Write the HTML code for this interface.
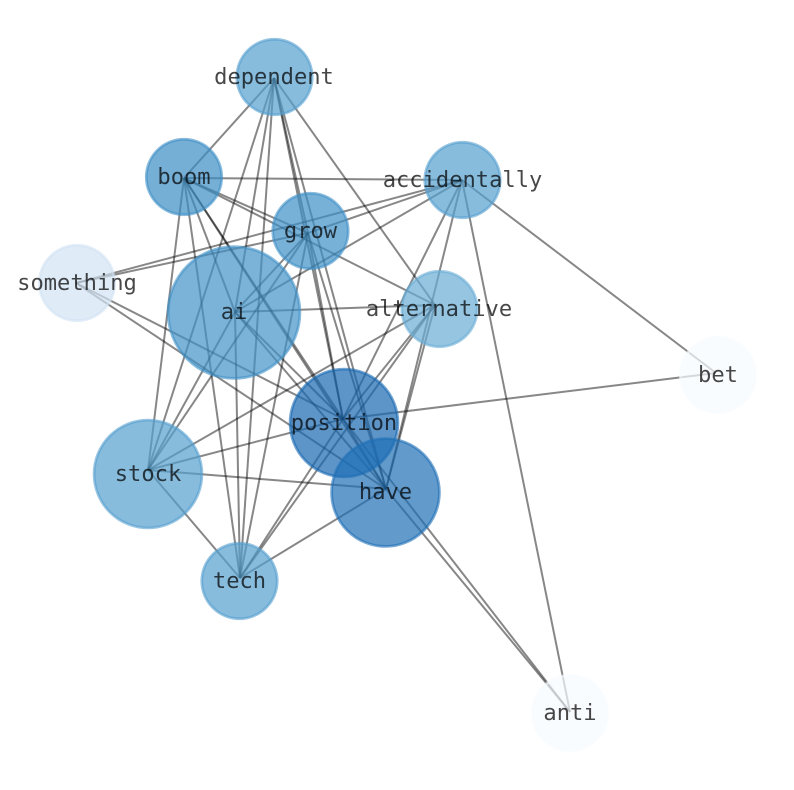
<!DOCTYPE html>
<html><head><meta charset="utf-8"><style>html,body{margin:0;padding:0;background:#fff}svg{display:block}text{font-family:"DejaVu Sans Mono","Liberation Mono",monospace;font-size:22.1px;text-anchor:middle;fill:#000;fill-opacity:.72}</style></head><body>
<svg width="794" height="790" viewBox="0 0 794 790" xmlns="http://www.w3.org/2000/svg">
<g stroke="#000" stroke-opacity=".47" stroke-width="2" fill="none">
<path d="M274 78L184 178"/><path d="M274 78L148 470"/><path d="M274 78L235 312"/><path d="M274 78L240 578"/><path d="M274 78L308 233"/><path d="M274 78L343 419"/><path d="M274 78L386 489"/><path d="M274 78L435 305"/>
<path d="M184 178L462 180"/><path d="M184 178L308 233"/><path d="M184 178L435 305"/><path d="M184 178L148 470"/><path d="M184 178L235 312"/><path d="M184 178L240 578"/><path d="M184 178L343 419"/><path d="M184 178L386 489"/>
<path d="M76 283L462 180"/><path d="M76 283L308 233"/><path d="M76 283L343 419"/><path d="M76 283L386 489"/>
<path d="M462 180L308 233"/><path d="M462 180L235 312"/><path d="M462 180L343 419"/><path d="M462 180L386 489"/><path d="M462 180L716 373"/><path d="M462 180L570 712"/>
<path d="M308 233L235 312"/><path d="M308 233L148 470"/><path d="M308 233L240 578"/><path d="M308 233L343 419"/><path d="M308 233L386 489"/>
<path d="M235 312L435 305"/><path d="M235 312L148 470"/><path d="M235 312L240 578"/><path d="M235 312L343 419"/><path d="M235 312L386 489"/>
<path d="M435 305L148 470"/><path d="M435 305L240 578"/><path d="M435 305L343 419"/><path d="M435 305L386 489"/>
<path d="M343 419L716 373"/><path d="M343 419L148 470"/><path d="M343 419L240 578"/><path d="M343 419L386 489"/><path d="M343 419L570 712"/>
<path d="M386 489L148 470"/><path d="M386 489L240 578"/><path d="M386 489L570 712"/>
<path d="M148 470L240 578"/>
</g>
<g stroke-width="2.8" fill-opacity=".7" stroke-opacity=".6">
<circle cx="274.5" cy="77" r="37.7" fill="#559fce" stroke="#559fce"/>
<circle cx="184" cy="177" r="37.7" fill="#3c8dc4" stroke="#3c8dc4"/>
<circle cx="462.5" cy="180" r="37.7" fill="#559fce" stroke="#559fce"/>
<circle cx="310.5" cy="231" r="37.7" fill="#3f90c6" stroke="#3f90c6"/>
<circle cx="77" cy="283" r="37.7" fill="#d2e3f3" stroke="#d2e3f3"/>
<circle cx="234" cy="312.5" r="65.9" fill="#4191c7" stroke="#4191c7"/>
<circle cx="439.5" cy="309" r="37.7" fill="#6aadd5" stroke="#6aadd5"/>
<circle cx="344" cy="423" r="53.9" fill="#1868b1" stroke="#1868b1"/>
<circle cx="718" cy="375" r="37.7" fill="#f7fbff" stroke="#f7fbff"/>
<circle cx="148" cy="474" r="53.9" fill="#559fce" stroke="#559fce"/>
<circle cx="385.5" cy="492.5" r="53.9" fill="#206fb5" stroke="#206fb5"/>
<circle cx="239.5" cy="581" r="37.7" fill="#559fce" stroke="#559fce"/>
<circle cx="570" cy="713" r="37.7" fill="#f7fbff" stroke="#f7fbff"/>
</g>
<text x="274" y="84">dependent</text>
<text x="184" y="184">boom</text>
<text x="462.5" y="187">accidentally</text>
<text x="310.5" y="238">grow</text>
<text x="77" y="290">something</text>
<text x="234" y="319">ai</text>
<text x="439" y="316">alternative</text>
<text x="344" y="430">position</text>
<text x="718" y="382">bet</text>
<text x="148" y="481">stock</text>
<text x="385.5" y="499">have</text>
<text x="239.5" y="588">tech</text>
<text x="570" y="720">anti</text>
</svg>
</body></html>
